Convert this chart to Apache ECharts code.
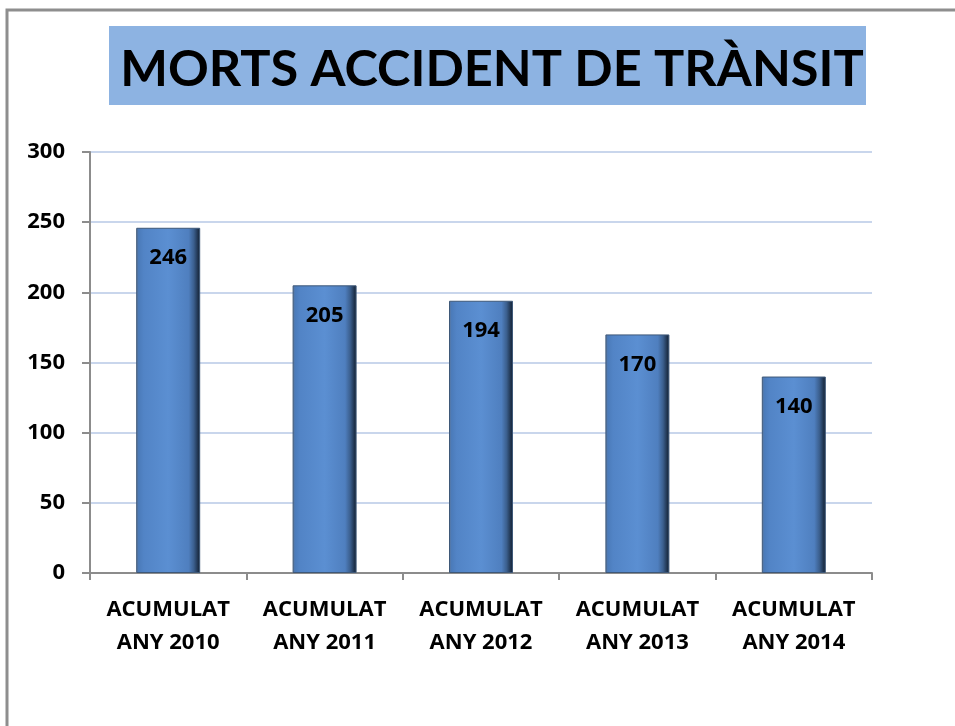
<!DOCTYPE html>
<html>
<head>
<meta charset="utf-8">
<script src="https://cdn.jsdelivr.net/npm/echarts@6/dist/echarts.min.js"></script>
<style>
  html, body { margin: 0; padding: 0; background: #fff; }
  #main { width: 955px; height: 726px; }
</style>
</head>
<body>
<div id="main"></div>
<script>
// dades
var categories = ['ACUMULAT\nANY 2010', 'ACUMULAT\nANY 2011', 'ACUMULAT\nANY 2012', 'ACUMULAT\nANY 2013', 'ACUMULAT\nANY 2014'];
var morts = [246, 205, 194, 170, 140];
var yTicks = [0, 50, 100, 150, 200, 250, 300];

var dom = document.getElementById('main');
var myChart = echarts.init(dom);

var fontFam = 'Lato, "Open Sans", sans-serif';
var labelFam = '"Open Sans", Lato, sans-serif';

// color de la barra amb efecte bisellat
var barColor = new echarts.graphic.LinearGradient(0, 0, 1, 0, [
    { offset: 0, color: '#5d7596' },
    { offset: 0.04, color: '#4b7bba' },
    { offset: 0.12, color: '#5284c6' },
    { offset: 0.5, color: '#5b8fd2' },
    { offset: 0.82, color: '#4f7fbf' },
    { offset: 0.9, color: '#3b5f8e' },
    { offset: 0.97, color: '#1d3049' },
    { offset: 1, color: '#16263a' }
]);

option = {
    animation: false,
    backgroundColor: '#fff',
    graphic: [
        {
            type: 'rect',
            shape: { x: 7, y: 10, width: 970, height: 740 },
            style: { fill: 'none', stroke: '#8e8e8e', lineWidth: 3 },
            z: -10
        },
        {
            type: 'rect',
            shape: { x: 109, y: 26, width: 757, height: 79 },
            style: { fill: '#8db3e2' },
            z: -5
        }
    ],
    title: {
        text: 'MORTS ACCIDENT DE TRÀNSIT',
        left: 487,
        top: 39,
        textAlign: 'center',
        textStyle: {
            fontFamily: fontFam,
            fontWeight: 'bold',
            fontSize: 50.5,
            color: '#000'
        }
    },
    grid: {
        left: 90,
        right: 83,
        top: 152,
        bottom: 153
    },
    xAxis: {
        type: 'category',
        data: categories,
        axisLine: { lineStyle: { color: '#8c8c8c', width: 2 } },
        axisTick: { show: true, length: 7, lineStyle: { color: '#8c8c8c', width: 2 } },
        axisLabel: {
            interval: 0,
            margin: 20,
            fontFamily: labelFam,
            fontWeight: 'bold',
            fontSize: 22,
            lineHeight: 33,
            color: '#000'
        }
    },
    yAxis: {
        type: 'value',
        min: yTicks[0],
        max: yTicks[yTicks.length - 1],
        interval: 50,
        axisLine: { show: true, lineStyle: { color: '#8c8c8c', width: 2 } },
        axisTick: { show: true, length: 8, lineStyle: { color: '#8c8c8c', width: 2 } },
        axisLabel: {
            margin: 25,
            fontFamily: labelFam,
            fontWeight: 'bold',
            fontSize: 22,
            color: '#000'
        },
        splitLine: { lineStyle: { color: '#c9d6ec', width: 2 } }
    },
    series: [{
        name: 'Morts',
        type: 'bar',
        data: morts,
        barWidth: 64,
        itemStyle: {
            color: barColor,
            borderColor: '#3e5878',
            borderWidth: 1
        },
        label: {
            show: true,
            position: 'insideTop',
            distance: 19,
            fontFamily: labelFam,
            fontWeight: 'bold',
            fontSize: 22,
            color: '#000'
        }
    }]
};
myChart.setOption(option);
</script>
</body>
</html>
